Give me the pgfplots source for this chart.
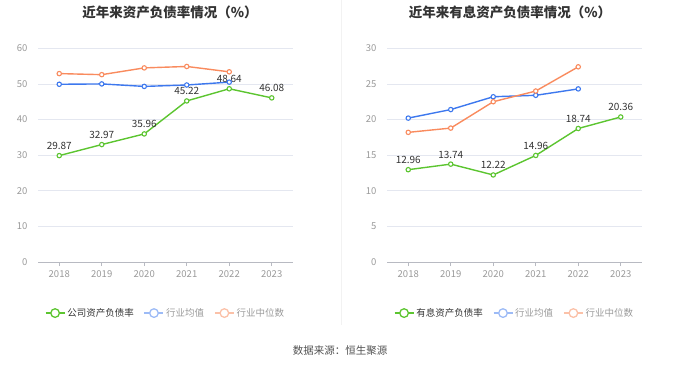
\documentclass[border=0pt]{standalone}
\usepackage{pgfplots}
\pgfplotsset{compat=1.18}
\usepackage{fontspec}
\setmainfont{Noto Sans CJK SC}
\definecolor{cg}{HTML}{5CC530}
\definecolor{cb}{HTML}{3D78EE}
\definecolor{co}{HTML}{F98B5E}
\definecolor{cbl}{HTML}{9DBBF6}
\definecolor{col}{HTML}{FBC1A8}
\definecolor{gridc}{HTML}{E4E7F0}
\definecolor{tickc}{HTML}{999999}
\definecolor{axc}{HTML}{B8BAC2}
\definecolor{txt}{HTML}{333333}
\pgfplotsset{
  panel/.style={
    scale only axis, width=255pt, height=213.7pt,
    xmin=-0.5, xmax=5.5,
    xtick={0,1,2,3,4,5}, xticklabels={2018,2019,2020,2021,2022,2023},
    axis x line*=bottom, axis y line*=left,
    y axis line style={draw=none},
    x axis line style={draw=axc, line width=0.8pt},
    xtick style={draw=axc, line width=0.8pt},
    ytick style={draw=none},
    tick align=outside, major tick length=4pt,
    ymajorgrids, grid style={draw=gridc, line width=0.6pt},
    /pgf/number format/assume math mode=true,
    ticklabel style={font=\fontsize{9.5}{11}\selectfont, text=tickc},
    xticklabel style={yshift=-1pt},
    yticklabel style={xshift=-3pt},
    every axis plot/.append style={line width=1.4pt, mark=*, mark size=2.2pt, mark options={fill=white, line width=1.1pt, solid}},
    legend style={at={(0.5,-0.239)}, anchor=center, draw=none, fill=none,
      legend columns=3, font=\fontsize{9.5}{11}\selectfont,
      /tikz/every even column/.append style={column sep=8pt}},
    legend image code/.code={\draw[#1,mark=none,line width=1.4pt](0pt,0pt)--(19pt,0pt);
      \draw[#1,mark=none,fill=white,line width=1.3pt](9.5pt,0pt) circle (4.3pt);},
  },
  labs/.style={nodes near coords, point meta=explicit symbolic,
    every node near coord/.append style={font=\fontsize{10}{11}\selectfont, text=txt, anchor=south, yshift=2pt}},
}
\begin{document}
\begin{tikzpicture}[x=1pt,y=1pt]
\useasboundingbox (0,0) rectangle (680,367);
\draw[color=black!5, line width=0.8pt] (341,367) -- (341,42);
\node[font=\bfseries\fontsize{13.5}{15}\selectfont, text=txt] at (170,355) {近年来资产负债率情况（\%）};
\node[font=\bfseries\fontsize{13.5}{15}\selectfont, text=txt] at (510,355) {近年来有息资产负债率情况（\%）};
\node[font=\fontsize{10.5}{12}\selectfont, text=txt!85] at (340,16) {数据来源：恒生聚源};

\begin{axis}[panel, at={(38pt,105pt)}, anchor=south west, ymin=0, ymax=60, ytick={0,10,...,60}]
\addplot[color=cg, labs] coordinates {(0,29.87)[29.87] (1,32.97)[32.97] (2,35.96)[35.96] (3,45.22)[45.22] (4,48.64)[48.64] (5,46.08)[46.08]};
\addlegendentry{\textcolor{txt}{公司资产负债率}}
\addplot[color=cb, legend image code/.code={\draw[cbl,line width=1.4pt](0pt,0pt)--(19pt,0pt);\draw[cbl,fill=white,line width=1.3pt](9.5pt,0pt) circle (4.3pt);}] coordinates {(0,49.9) (1,50.0) (2,49.3) (3,49.7) (4,50.5)};
\addlegendentry{\textcolor{tickc}{行业均值}}
\addplot[color=co, legend image code/.code={\draw[col,line width=1.4pt](0pt,0pt)--(19pt,0pt);\draw[col,fill=white,line width=1.3pt](9.5pt,0pt) circle (4.3pt);}] coordinates {(0,52.9) (1,52.6) (2,54.5) (3,54.9) (4,53.4)};
\addlegendentry{\textcolor{tickc}{行业中位数}}
\end{axis}

\begin{axis}[panel, at={(387pt,105pt)}, anchor=south west, ymin=0, ymax=30, ytick={0,5,...,30}]
\addplot[color=cg, labs] coordinates {(0,12.96)[12.96] (1,13.74)[13.74] (2,12.22)[12.22] (3,14.96)[14.96] (4,18.74)[18.74] (5,20.36)[20.36]};
\addlegendentry{\textcolor{txt}{有息资产负债率}}
\addplot[color=cb, legend image code/.code={\draw[cbl,line width=1.4pt](0pt,0pt)--(19pt,0pt);\draw[cbl,fill=white,line width=1.3pt](9.5pt,0pt) circle (4.3pt);}] coordinates {(0,20.2) (1,21.4) (2,23.2) (3,23.4) (4,24.3)};
\addlegendentry{\textcolor{tickc}{行业均值}}
\addplot[color=co, legend image code/.code={\draw[col,line width=1.4pt](0pt,0pt)--(19pt,0pt);\draw[col,fill=white,line width=1.3pt](9.5pt,0pt) circle (4.3pt);}] coordinates {(0,18.2) (1,18.8) (2,22.5) (3,24.0) (4,27.4)};
\addlegendentry{\textcolor{tickc}{行业中位数}}
\end{axis}
\end{tikzpicture}
\end{document}
